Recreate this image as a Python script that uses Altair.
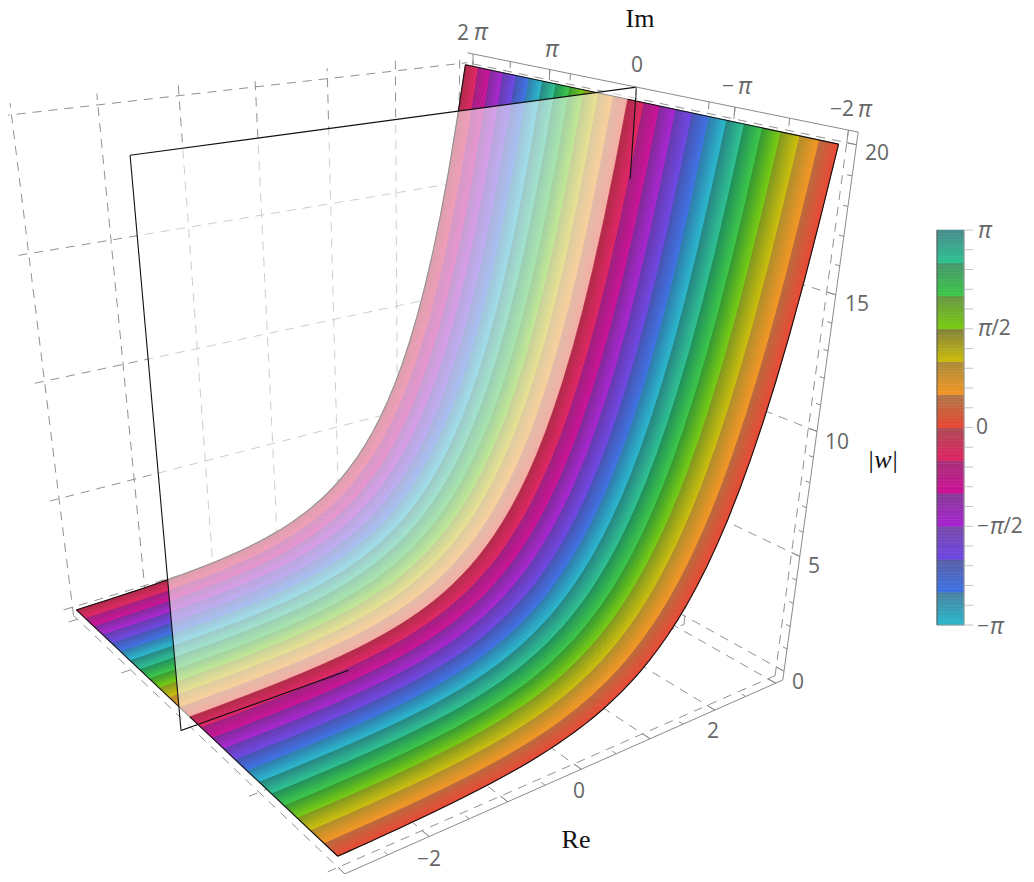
import math
import numpy as np
import pandas as pd
import altair as alt

PI = math.pi

# ---- surface values ----
re_values = [-3 + 0.125 * i for i in range(49)]
w_values = [0.050, 0.056, 0.064, 0.072, 0.082, 0.093, 0.105, 0.119, 0.135, 0.153, 0.174, 0.197,
            0.223, 0.253, 0.287, 0.325, 0.368, 0.417, 0.472, 0.535, 0.607, 0.687, 0.779, 0.883,
            1.000, 1.133, 1.284, 1.455, 1.649, 1.868, 2.117, 2.399, 2.718, 3.080, 3.490, 3.955,
            4.482, 5.078, 5.755, 6.521, 7.389, 8.373, 9.488, 10.75, 12.18, 13.80, 15.64, 17.73, 20.0]

# colour bands, lowest arg first (-pi .. pi, 12 bands)
band_bright = [(40,185,205),(60,115,230),(110,70,230),(170,35,210),(205,15,150),(225,35,100),
               (235,70,50),(245,150,35),(205,190,10),(120,205,15),(60,200,70),(45,195,145)]
band_dark_surface = [(45,120,170),(70,80,175),(100,55,170),(125,40,150),(155,30,125),(175,40,70),
                     (185,105,60),(175,140,40),(125,150,30),(50,150,50),(30,140,90),(35,130,130)]
band_dark_bar = [(75,130,160),(90,95,165),(120,75,170),(135,60,150),(165,50,120),(175,75,85),
                 (175,120,75),(170,140,60),(130,130,60),(105,150,70),(70,150,110),(72,140,140)]

RE_MIN, RE_MAX = -3.12, 3.12
IM_MIN, IM_MAX = -2*PI - 0.25, 2*PI + 0.25
Z_MIN, Z_MAX = -0.4, 20.4

# ---- camera calibration ----
cam_world = [(RE_MIN, IM_MIN, Z_MIN), (RE_MAX, IM_MIN, Z_MIN), (RE_MAX, IM_MIN, Z_MAX), (RE_MAX, IM_MAX, Z_MAX),
             (RE_MAX, 0, Z_MAX), (RE_MIN, 0, Z_MAX), (RE_MIN, 0, Z_MIN),
             (-3, -2*PI, 0.05), (3, -2*PI, 20), (3, 2*PI, 20), (-3, 2*PI, 0.05),
             (-2, IM_MIN, Z_MIN), (0, IM_MIN, Z_MIN), (2, IM_MIN, Z_MIN),
             (RE_MAX, IM_MIN, 5), (RE_MAX, IM_MIN, 10), (RE_MAX, IM_MIN, 15)]
cam_image = [(335,878), (783,680), (858,132), (467,52),
             (637,88), (131,155), (180,731),
             (337,857), (838,143), (465,65), (77,610),
             (428,837), (582,768), (715,709),
             (800,557), (817,433), (836,295)]

A, b = [], []
for (X, Y, Z), (u, v) in zip(cam_world, cam_image):
    A.append([X, Y, Z, 1, 0, 0, 0, 0, -u*X, -u*Y, -u*Z]); b.append(u)
    A.append([0, 0, 0, 0, X, Y, Z, 1, -v*X, -v*Y, -v*Z]); b.append(v)
p = np.linalg.lstsq(np.array(A, float), np.array(b, float), rcond=None)[0]
P = np.append(p, 1.0).reshape(3, 4)


def project(re, im, z):
    h = P @ np.array([re, im, z, 1.0])
    return h[0] / h[2] - 8, h[1] / h[2] - 8


def hexmix(c1, c2, t):
    return "#%02x%02x%02x" % tuple(int(round(a + (b_ - a) * t)) for a, b_ in zip(c1, c2))


# ---- surface stripes ----
N_SUB = 9


def stripes(kmin, kmax):
    rows = []
    for k in range(kmin, kmax):
        band = (6 + k) % 12
        lo = -2*PI + k * PI/6
        for j in range(N_SUB):
            a = lo + j/N_SUB * PI/6
            c = lo + (j+1)/N_SUB * PI/6
            col = hexmix(band_bright[band], band_dark_surface[band], (j+0.5)/N_SUB)
            pts = [(r, a, w) for r, w in zip(re_values, w_values)] + \
                  [(r, c, w) for r, w in zip(re_values[::-1], w_values[::-1])]
            for i, (r, im, z) in enumerate(pts):
                x, y = project(r, im, z)
                rows.append(dict(x=round(x, 2), y=round(y, 2), poly=f"{k}-{j}", i=i, col=col))
    return pd.DataFrame(rows)


def polygons(df, **kw):
    return alt.Chart(df).mark_line(strokeWidth=0.7, **kw).encode(
        x=alt.X("x:Q", scale=alt.Scale(domain=[0, 1018]), axis=None),
        y=alt.Y("y:Q", scale=alt.Scale(domain=[866, 0]), axis=None),
        detail="poly:N",
        order="i:Q",
        fill=alt.Fill("col:N", scale=None),
        stroke=alt.Stroke("col:N", scale=None),
    )


def segs(items, color, width, dash=None, clip=False):
    rows = []
    for n, pts in enumerate(items):
        for i, (r, im, z) in enumerate(pts):
            x, y = project(r, im, z)
            rows.append(dict(x=x, y=y, seg=n, i=i))
    kw = dict(color=color, strokeWidth=width, clip=clip)
    if dash:
        kw["strokeDash"] = dash
    return alt.Chart(pd.DataFrame(rows)).mark_line(**kw).encode(
        x=alt.X("x:Q", scale=alt.Scale(domain=[0, 1018]), axis=None),
        y=alt.Y("y:Q", scale=alt.Scale(domain=[866, 0]), axis=None),
        detail="seg:N",
        order="i:Q",
    )


# ---- grid ----
re_grid = [-3, -2, -1, 0, 1, 2, 3]
im_grid = [-2*PI, -PI, 0, PI, 2*PI]
z_grid = [0, 5, 10, 15, 20]
grid = []
for r in re_grid:
    grid.append([(r, IM_MIN, Z_MIN), (r, IM_MAX, Z_MIN)])
    grid.append([(r, IM_MAX, Z_MIN), (r, IM_MAX, Z_MAX)])
for im in im_grid:
    grid.append([(RE_MIN, im, Z_MIN), (RE_MAX, im, Z_MIN)])
    grid.append([(RE_MAX, im, Z_MIN), (RE_MAX, im, Z_MAX)])
for z in z_grid:
    grid.append([(RE_MIN, IM_MAX, z), (RE_MAX, IM_MAX, z)])
    grid.append([(RE_MAX, IM_MIN, z), (RE_MAX, IM_MAX, z)])

# ---- axes and ticks ----
axes = [[(RE_MIN, IM_MIN, Z_MIN), (RE_MAX, IM_MIN, Z_MIN)],
        [(RE_MAX, IM_MIN, Z_MIN), (RE_MAX, IM_MIN, Z_MAX)],
        [(RE_MAX, IM_MIN, Z_MAX), (RE_MAX, IM_MAX, Z_MAX)]]
for i in range(13):
    r = -3 + 0.5*i
    axes.append([(r, IM_MIN, Z_MIN), (r, IM_MIN + (0.25 if i % 2 == 0 else 0.13), Z_MIN)])
for i in range(21):
    axes.append([(RE_MAX, IM_MIN, float(i)), (RE_MAX, IM_MIN + (0.25 if i % 5 == 0 else 0.13), float(i))])
for frac, big in [(2, 1), (1.5, 0), (1, 1), (0.75, 0), (0, 1), (-0.75, 0), (-1, 1), (-1.5, 0), (-2, 1)]:
    axes.append([(RE_MAX, frac*PI, Z_MAX), (RE_MAX, frac*PI, Z_MAX - (0.4 if big else 0.25))])

# ---- plane at Im = 0 ----
plane_pts = [(RE_MIN, 0, Z_MIN), (RE_MAX, 0, Z_MIN), (RE_MAX, 0, Z_MAX), (RE_MIN, 0, Z_MAX)]
plane_rows = []
for i, (r, im, z) in enumerate(plane_pts):
    x, y = project(r, im, z)
    plane_rows.append(dict(x=x, y=y, poly="plane", i=i, col="white"))
plane = alt.Chart(pd.DataFrame(plane_rows)).mark_line(strokeWidth=0, fillOpacity=0.55).encode(
    x=alt.X("x:Q", scale=alt.Scale(domain=[0, 1018]), axis=None),
    y=alt.Y("y:Q", scale=alt.Scale(domain=[866, 0]), axis=None),
    detail="poly:N", order="i:Q",
    fill=alt.Fill("col:N", scale=None),
)
plane_edges = segs([[(RE_MIN, 0, Z_MAX), (RE_MAX, 0, Z_MAX)],
                    [(RE_MIN, 0, Z_MAX), (RE_MIN, 0, Z_MIN)]], "#111111", 1.1)
plane_edges_top = segs([[(RE_MIN, 0, Z_MIN), (-0.9, 0, Z_MIN)],
                        [(RE_MAX, 0, Z_MAX), (RE_MAX, 0, 17.0)]], "#111111", 1.1)

# ---- surface outlines ----
edge_back = [[(r, 2*PI, w) for r, w in zip(re_values, w_values)],
             [(3, 2*PI, 20), (3, 0, 20)], [(-3, 2*PI, 0.05), (-3, 0, 0.05)]]
edge_front = [[(r, -2*PI, w) for r, w in zip(re_values, w_values)],
              [(3, -2*PI, 20), (3, 0, 20)], [(-3, -2*PI, 0.05), (-3, 0, 0.05)]]

# ---- colour bar ----
bar_rows = []
for b_i in range(12):
    lo = -PI + b_i*PI/6
    n = 10
    for j in range(n):
        bar_rows.append(dict(lo=lo + j/n*PI/6, hi=lo + (j+1)/n*PI/6,
                             col=hexmix(band_bright[b_i], band_dark_bar[b_i], (j+0.5)/n)))
bar_y = alt.Scale(domain=[-PI, PI], range=[617, 222])
bar = alt.Chart(pd.DataFrame(bar_rows)).mark_rect(strokeWidth=0.6).encode(
    x=alt.value(929), x2=alt.value(956),
    y=alt.Y("lo:Q", scale=bar_y, axis=None), y2="hi:Q",
    fill=alt.Fill("col:N", scale=None),
    stroke=alt.Stroke("col:N", scale=None),
)
bar_ticks = alt.Chart(pd.DataFrame({"v": [-PI + i*PI/10 for i in range(21)]})).mark_rule(
    color="#c4c4c4", strokeWidth=1).encode(
    y=alt.Y("v:Q", scale=bar_y, axis=None), x=alt.value(956), x2=alt.value(965))
bar_bottom = alt.Chart(pd.DataFrame({"v": [-PI]})).mark_rule(color="#999999", strokeWidth=1).encode(
    y=alt.Y("v:Q", scale=bar_y, axis=None), x=alt.value(929), x2=alt.value(956))
bar_left = alt.Chart(pd.DataFrame({"a": [-PI], "b": [PI]})).mark_rule(color="#555555", strokeWidth=1).encode(
    y=alt.Y("a:Q", scale=bar_y, axis=None), y2="b:Q", x=alt.value(929))
bar_right = alt.Chart(pd.DataFrame({"a": [-PI], "b": [PI]})).mark_rule(color="#999999", strokeWidth=1).encode(
    y=alt.Y("a:Q", scale=bar_y, axis=None), y2="b:Q", x=alt.value(956))
colorbar = alt.layer(bar, bar_ticks, bar_bottom, bar_left, bar_right)

# ---- text ----
MINUS = "\u2212"
sans_labels = [("2", 463, 34), ("0", 637, 66), (MINUS, 728, 87), (MINUS, 836, 110), ("2", 848, 110),
               ("20", 877, 154), ("15", 857, 305), ("10", 837, 443), ("5", 814, 567), ("0", 798, 683),
               (MINUS + "2", 429, 860), ("0", 579, 792), ("2", 713, 732),
               ("/2", 1001, 329), ("0", 982, 428), (MINUS, 983, 527), ("/2", 1013, 527), (MINUS, 983, 627)]
pi_labels = [("\u03c0", 481, 33), ("\u03c0", 552, 50), ("\u03c0", 745, 87), ("\u03c0", 865, 110),
             ("\u03c0", 985, 231), ("\u03c0", 985, 329), ("\u03c0", 997, 527), ("\u03c0", 997, 627)]
serif_labels = [("Im", 640, 19), ("Re", 576, 840), ("|", 871, 460), ("|", 895, 460)]
serif_italic_labels = [("w", 883, 460)]


def texts(items, font, size, color, style="normal"):
    df = pd.DataFrame([dict(t=t, x=x-8, y=y-8) for t, x, y in items])
    return alt.Chart(df).mark_text(font=font, fontSize=size, color=color, fontStyle=style,
                                   align="center", baseline="middle").encode(
        x=alt.X("x:Q", scale=alt.Scale(domain=[0, 1018]), axis=None),
        y=alt.Y("y:Q", scale=alt.Scale(domain=[866, 0]), axis=None),
        text="t:N",
    )


main = alt.layer(
    segs(grid, "#858585", 0.9, dash=[9, 7], clip=True),
    polygons(stripes(12, 24)),
    segs(edge_back, "#111111", 1.1),
    plane,
    plane_edges,
    polygons(stripes(0, 12)),
    segs(edge_front, "#111111", 1.1),
    plane_edges_top,
    segs(axes, "#8a8a8a", 1.0),
    texts(sans_labels, "Open Sans", 21, "#666666"),
    texts(pi_labels, "Open Sans", 23, "#666666", "italic"),
    texts(serif_labels, "Liberation Serif", 26, "#111111"),
    texts(serif_italic_labels, "Liberation Serif", 26, "#111111", "italic"),
)

chart = alt.layer(main, colorbar).resolve_scale(y="independent").properties(
    width=1018, height=866, padding=0, autosize=alt.AutoSizeParams(type="none")
).configure_view(stroke=None)

chart.save("out.html", embed_options={"renderer": "svg", "actions": False})
